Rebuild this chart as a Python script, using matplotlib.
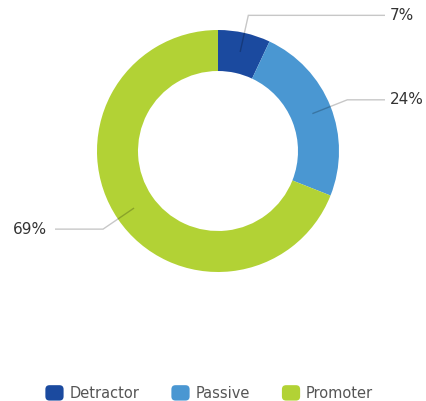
import numpy as np
import matplotlib.pyplot as plt
from matplotlib.patches import Patch, FancyBboxPatch
from matplotlib.legend_handler import HandlerPatch

plt.rcParams['font.family'] = ['DejaVu Sans']

# data
categories = ['Detractor', 'Passive', 'Promoter']
shares = [7, 24, 69]
colors = ['#1b4a9f', '#4a97d2', '#b2d235']

W, H = 427, 401
fig = plt.figure(figsize=(W / 100, H / 100), dpi=100)
ax = fig.add_axes([0, 0, 1, 1])

cx, cy = 218, 401 - 151   # ring center (pixels)
r_out, r_in = 121, 80

wedges, _ = ax.pie(shares, colors=colors, radius=r_out, center=(cx, cy),
                   startangle=90, counterclock=False, frame=True,
                   wedgeprops=dict(width=r_out - r_in, linewidth=0))
ax.set_xlim(0, W)
ax.set_ylim(0, H)
ax.set_aspect('equal')
ax.axis('off')

# leader lines + labels
r_mid = (r_out + r_in) / 2 + 1
r_elb = 139
for w, val in zip(wedges, shares):
    ang = np.deg2rad((w.theta1 + w.theta2) / 2)
    x0, y0 = cx + r_mid * np.cos(ang), cy + r_mid * np.sin(ang)
    x1, y1 = cx + r_elb * np.cos(ang), cy + r_elb * np.sin(ang)
    right = np.cos(ang) >= 0
    x2 = 385 if right else 55
    ax.plot([x0, x1, x2], [y0, y1, y1], color='black', alpha=0.22, lw=1,
            solid_capstyle='butt', solid_joinstyle='miter')
    if right:
        ax.text(x2 + 5, y1, f'{val}%', ha='left', va='center', fontsize=11, color='#333333')
    else:
        ax.text(x2 - 8, y1, f'{val}%', ha='right', va='center', fontsize=11, color='#333333')


class RoundHandler(HandlerPatch):
    def create_artists(self, legend, orig, xd, yd, width, height, fontsize, trans):
        p = FancyBboxPatch((-xd, -yd), width, height,
                           boxstyle='round,pad=0,rounding_size=3',
                           facecolor=orig.get_facecolor(), edgecolor='none',
                           transform=trans)
        return [p]


handles = [Patch(facecolor=c, edgecolor='none', label=n) for c, n in zip(colors, categories)]
ax.legend(handles=handles, loc='center', bbox_to_anchor=(0.49, 0.02), ncol=3,
          frameon=False, fontsize=10.5, handlelength=1.25, handleheight=1.25,
          handletextpad=0.4, columnspacing=2.2, labelcolor='#555555',
          handler_map={Patch: RoundHandler()})

fig.savefig('out.png', dpi=100)
